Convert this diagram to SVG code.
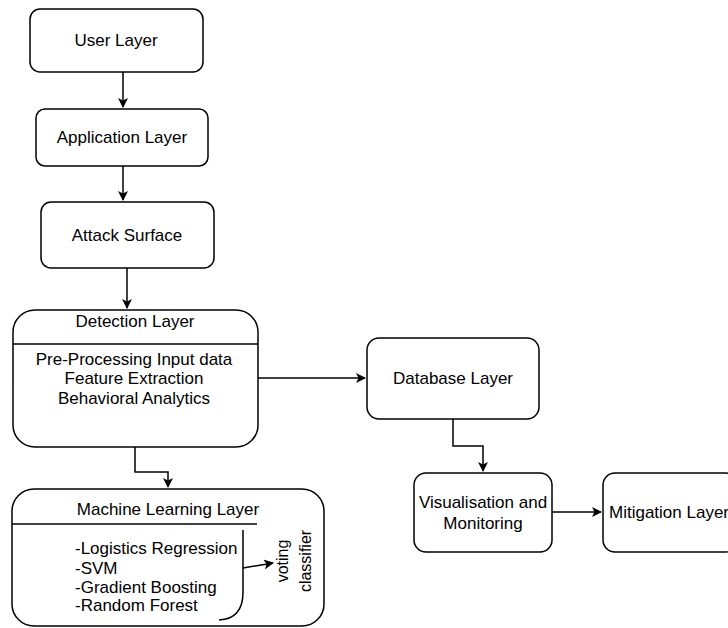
<svg xmlns="http://www.w3.org/2000/svg" width="728" height="628" viewBox="0 0 728 628">
<defs>
<style>
.box{fill:#fff;stroke:#000;stroke-width:1.5}
.t{font-family:"Liberation Sans",Arial,sans-serif;font-size:17px;fill:#000}
.m{text-anchor:middle}
.c{fill:none;stroke:#000;stroke-width:1.5}
</style>
<marker id="ah" viewBox="0 0 10 10" refX="9" refY="5" markerWidth="10" markerHeight="10" markerUnits="userSpaceOnUse" orient="auto">
<path d="M0,0 L10,5 L0,10 L2.5,5 Z" fill="#000"/>
</marker>
</defs>
<rect width="728" height="628" fill="#fff"/>
<g id="connectors">
<path class="c" d="M123,72 L123,107" marker-end="url(#ah)"/>
<path class="c" d="M123,166 L123,200" marker-end="url(#ah)"/>
<path class="c" d="M127,268 L127,308" marker-end="url(#ah)"/>
<path class="c" d="M258,378 L365,378" marker-end="url(#ah)"/>
<path class="c" d="M135,447 L135,472 L168,472 L168,487" marker-end="url(#ah)"/>
<path class="c" d="M453,419 L453,446 L483,446 L483,471" marker-end="url(#ah)"/>
<path class="c" d="M552,512 L601,512" marker-end="url(#ah)"/>
</g>
<g id="user-layer">
<rect class="box" x="30" y="9" width="173" height="63" rx="10"/>
<text class="t m" x="116" y="46">User Layer</text>
</g>
<g id="application-layer">
<rect class="box" x="36" y="109" width="172" height="57" rx="9"/>
<text class="t m" x="122" y="143">Application Layer</text>
</g>
<g id="attack-surface">
<rect class="box" x="41" y="202" width="173" height="66" rx="10"/>
<text class="t m" x="127" y="241">Attack Surface</text>
</g>
<g id="detection-layer">
<rect class="box" x="13" y="310" width="245" height="137" rx="22"/>
<line class="c" x1="13" y1="344" x2="258" y2="344"/>
<text class="t m" x="135" y="327">Detection Layer</text>
<text class="t m" x="134" y="365">Pre-Processing Input data</text>
<text class="t m" x="134" y="384">Feature Extraction</text>
<text class="t m" x="134" y="404">Behavioral Analytics</text>
</g>
<g id="machine-learning-layer">
<rect class="box" x="12" y="489" width="312" height="137" rx="22"/>
<line class="c" x1="12" y1="524" x2="257" y2="524"/>
<text class="t m" x="168" y="515">Machine Learning Layer</text>
<text class="t" x="75" y="554">-Logistics Regression</text>
<text class="t" x="75" y="574">-SVM</text>
<text class="t" x="75" y="593">-Gradient Boosting</text>
<text class="t" x="75" y="611">-Random Forest</text>
<path class="c" d="M243,530 L243,592 Q243,619 219,620"/>
<path class="c" d="M243,568 L273,563" marker-end="url(#ah)"/>
<text class="t m" style="font-size:16px" transform="translate(294,561) rotate(-90)"><tspan x="0" y="-6">voting</tspan><tspan x="0" y="17">classifier</tspan></text>
</g>
<g id="database-layer">
<rect class="box" x="367" y="338" width="172" height="81" rx="12"/>
<text class="t m" x="453" y="384">Database Layer</text>
</g>
<g id="visualisation-monitoring">
<rect class="box" x="414" y="473" width="138" height="79" rx="12"/>
<text class="t m" x="483" y="508">Visualisation and</text>
<text class="t m" x="483" y="529">Monitoring</text>
</g>
<g id="mitigation-layer">
<rect class="box" x="603" y="473" width="135" height="79" rx="12"/>
<text class="t" x="609" y="518">Mitigation Layer</text>
</g>
</svg>
